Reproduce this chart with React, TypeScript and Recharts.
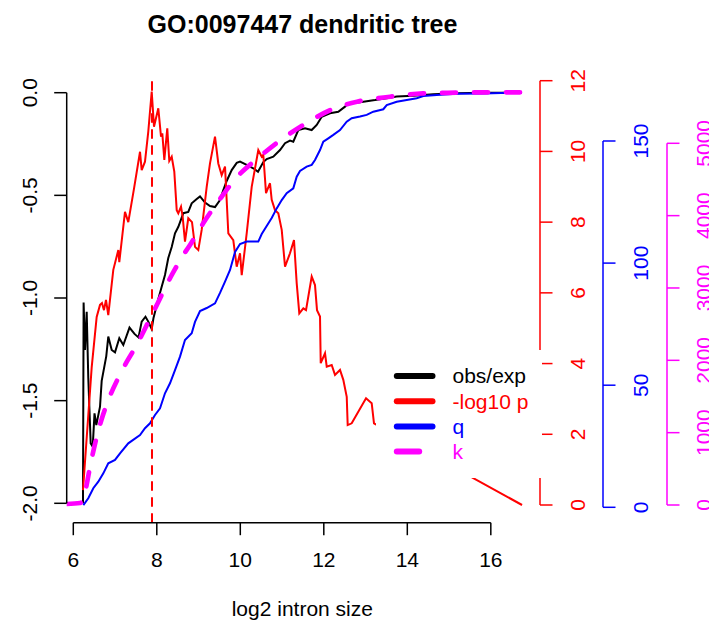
import React from 'react';
import { ComposedChart, Line, XAxis, YAxis, ReferenceLine, Legend, Customized } from 'recharts';

const FONT = '"Liberation Sans", Arial, Helvetica, sans-serif';

const TITLE = 'GO:0097447 dendritic tree';
const X_LABEL = 'log2 intron size';

// obs/exp (left axis)
const OBS_EXP: [number, number][] = [
  [6.232, -2.0], [6.247, -1.022], [6.28, -1.253], [6.321, -1.067], [6.359, -1.39], [6.417, -1.708],
  [6.465, -1.724], [6.508, -1.562], [6.551, -1.619], [6.64, -1.529], [6.68, -1.404], [6.79, -1.283],
  [6.838, -1.188], [6.92, -1.253], [6.999, -1.265], [7.102, -1.196], [7.198, -1.229], [7.346, -1.144],
  [7.466, -1.175], [7.562, -1.192], [7.638, -1.115], [7.729, -1.091], [7.796, -1.115], [7.878, -1.151],
  [7.921, -1.097], [8.036, -1.005], [8.117, -0.945], [8.196, -0.888], [8.275, -0.805], [8.357, -0.752],
  [8.436, -0.685], [8.516, -0.653], [8.635, -0.587], [8.754, -0.581], [8.836, -0.539], [8.956, -0.518],
  [9.035, -0.505], [9.155, -0.535], [9.274, -0.552], [9.394, -0.557], [9.514, -0.523], [9.593, -0.474],
  [9.674, -0.43], [9.794, -0.377], [9.914, -0.342], [9.993, -0.336], [10.153, -0.352], [10.311, -0.368],
  [10.424, -0.385], [10.551, -0.338], [10.632, -0.323], [10.79, -0.312], [10.951, -0.279], [11.071, -0.246],
  [11.19, -0.233], [11.269, -0.239], [11.389, -0.182], [11.55, -0.173], [11.71, -0.182], [11.83, -0.157],
  [11.95, -0.117], [12.148, -0.1], [12.347, -0.093], [12.508, -0.068], [12.587, -0.052], [12.867, -0.047],
  [13.107, -0.039], [13.226, -0.036], [13.507, -0.027], [13.746, -0.019], [14.144, -0.015], [14.623, -0.008],
  [15.183, -0.003], [15.82, 0.0], [16.747, 0.0],
];

// -log10 p (red axis)
const NEG_LOG_P: [number, number][] = [
  [6.232, 0.42], [6.441, 3.9], [6.56, 5.32], [6.64, 5.66], [6.687, 5.71], [6.735, 5.51], [6.783, 5.8],
  [6.838, 5.37], [6.958, 6.65], [7.078, 7.21], [7.102, 6.87], [7.238, 8.29], [7.317, 8.0], [7.454, 8.95],
  [7.598, 9.99], [7.638, 9.47], [7.717, 9.71], [7.796, 10.56], [7.878, 11.69], [7.933, 10.7], [8.036, 11.22],
  [8.101, 10.42], [8.132, 10.51], [8.18, 9.76], [8.251, 10.65], [8.299, 9.73], [8.357, 9.85], [8.419, 9.43],
  [8.477, 8.34], [8.515, 8.25], [8.58, 8.44], [8.62, 8.15], [8.675, 7.45], [8.754, 8.11], [8.843, 8.0],
  [8.915, 7.3], [8.994, 7.21], [9.075, 7.78], [9.195, 9.0], [9.274, 9.66], [9.394, 10.42], [9.473, 9.66],
  [9.554, 9.33], [9.634, 9.57], [9.713, 7.68], [9.832, 7.49], [9.914, 6.74], [9.993, 7.12], [10.034, 6.5],
  [10.153, 7.68], [10.273, 9.0], [10.431, 10.04], [10.513, 9.85], [10.551, 9.9], [10.616, 8.82], [10.711, 9.1],
  [10.752, 8.63], [10.831, 8.34], [10.91, 8.25], [10.992, 7.78], [11.071, 6.74], [11.19, 7.12], [11.286, 7.49],
  [11.351, 6.27], [11.413, 5.42], [11.509, 5.56], [11.574, 5.51], [11.71, 6.46], [11.789, 6.22], [11.837, 5.51],
  [11.909, 5.33], [11.926, 4.01], [12.029, 4.29], [12.07, 3.91], [12.189, 3.96], [12.268, 3.68], [12.388, 3.82],
  [12.467, 3.54], [12.549, 3.06], [12.572, 2.26], [12.668, 2.31], [13.011, 3.02], [13.147, 2.88], [13.202, 2.31],
  [16.748, 0.0],
];

// q (blue axis)
const Q_VALUES: [number, number][] = [
  [6.24, 0.9], [6.359, 3.7], [6.479, 7.8], [6.599, 10.5], [6.719, 13.9], [6.838, 18.0], [6.999, 19.4],
  [7.119, 22.1], [7.317, 26.2], [7.598, 29.6], [7.717, 32.4], [7.837, 34.4], [7.957, 37.8], [8.077, 40.5],
  [8.196, 46.7], [8.316, 50.8], [8.436, 56.2], [8.556, 61.7], [8.675, 68.5], [8.836, 71.3], [8.915, 75.9],
  [9.035, 80.4], [9.195, 81.6], [9.394, 83.5], [9.514, 87.8], [9.634, 92.4], [9.754, 97.2], [9.874, 104.6],
  [9.993, 107.8], [10.153, 108.8], [10.431, 108.8], [10.513, 111.9], [10.632, 115.2], [10.752, 118.5],
  [10.872, 122.4], [10.992, 125.8], [11.111, 128.6], [11.269, 130.6], [11.351, 135.4], [11.43, 137.7],
  [11.59, 139.5], [11.71, 140.2], [11.789, 142.2], [11.909, 146.3], [11.988, 149.7], [12.108, 151.1],
  [12.228, 152.5], [12.388, 154.5], [12.548, 157.9], [12.668, 159.3], [12.867, 160.0], [13.027, 160.7],
  [13.186, 162.0], [13.425, 163.0], [13.507, 164.7], [13.746, 166.1], [13.986, 166.8], [14.225, 167.5],
  [14.383, 168.4], [14.704, 168.8], [15.183, 169.3], [15.82, 169.5], [16.747, 169.9],
];

// k (magenta axis)
const K_VALUES: [number, number][] = [
  [5.842, 14], [6.16, 28], [6.232, 69], [6.304, 235], [6.4, 525], [6.56, 940], [6.719, 1258], [6.879, 1507],
  [7.078, 1756], [7.279, 1977], [7.519, 2212], [7.796, 2530], [8.036, 2806], [8.22, 3027], [8.412, 3235],
  [8.604, 3428], [8.795, 3594], [9.131, 3912], [9.514, 4230], [9.921, 4534], [10.424, 4796], [10.999, 5059],
  [11.43, 5225], [12.22, 5474], [12.795, 5575], [13.586, 5644], [14.376, 5689], [15.19, 5700], [15.98, 5705],
  [16.764, 5705],
];

const PEAK_X = 7.885;
const PEAK_TOP = 12;

const X_TICKS = [6, 8, 10, 12, 14, 16];
const OE_TICKS = [-2, -1.5, -1, -0.5, 0];
const P_TICKS = [0, 2, 4, 6, 8, 10, 12];
const Q_TICKS = [0, 50, 100, 150];
const K_TICKS = [0, 1000, 2000, 3000, 4000, 5000];

const LEGEND_LABELS = ['obs/exp', '-log10 p', 'q', 'k'];
const LEGEND_COLORS = ['#000000', '#FF0000', '#0000FF', '#FF00FF'];

// geometry
const W = 709;
const H = 634;
const PLOT_LEFT = 66.7;
const PLOT_RIGHT = 540;
const PLOT_TOP = 64;
const PLOT_BOTTOM = 522;
const PLOT_H = PLOT_BOTTOM - PLOT_TOP;
const PLOT_W = PLOT_RIGHT - PLOT_LEFT;
const X_DOMAIN: [number, number] = [5.842, 17.178];
const OE_DOMAIN: [number, number] = [-2.0911, 0.1398];
const P_DOMAIN: [number, number] = [-0.4808, 12.4723];
const Q_DOMAIN: [number, number] = [-6.02, 181.53];
const K_DOMAIN: [number, number] = [-235, 6096.2];

const toData = (pairs: [number, number][]) => pairs.map(([x, v]) => ({ x, v }));

const X_AXIS_Y = 522.7;
const TICK_LEN = 12.5;
const FS = 21;

const XTick = (props: any) => {
  const { x, payload } = props;
  const v = payload.value;
  const span = ((X_TICKS[X_TICKS.length - 1] - X_TICKS[0]) * PLOT_W) / (X_DOMAIN[1] - X_DOMAIN[0]);
  return (
    <g>
      {v === X_TICKS[0] && (
        <line x1={x} y1={X_AXIS_Y} x2={x + span} y2={X_AXIS_Y} stroke="#000" strokeWidth={1.5} />
      )}
      <line x1={x} y1={X_AXIS_Y} x2={x} y2={X_AXIS_Y + TICK_LEN} stroke="#000" strokeWidth={1.5} />
      <text x={x} y={567} textAnchor="middle" fontSize={FS} fontFamily={FONT} fill="#000">
        {v}
      </text>
    </g>
  );
};

const makeYTick = (
  axisX: number,
  dir: number,
  labelX: number,
  ticks: number[],
  domain: [number, number],
  color: string,
  fmt: (v: number) => string
) => (props: any) => {
  const { y, payload } = props;
  const v = payload.value;
  const span = ((ticks[ticks.length - 1] - ticks[0]) * PLOT_H) / (domain[1] - domain[0]);
  return (
    <g>
      {v === ticks[0] && <line x1={axisX} y1={y} x2={axisX} y2={y - span} stroke={color} strokeWidth={1.5} />}
      <line x1={axisX} y1={y} x2={axisX + dir * TICK_LEN} y2={y} stroke={color} strokeWidth={1.5} />
      <text
        x={labelX}
        y={y}
        transform={`rotate(-90 ${labelX} ${y})`}
        textAnchor="middle"
        fontSize={FS}
        fontFamily={FONT}
        fill={color}
      >
        {fmt(v)}
      </text>
    </g>
  );
};

const OETick = makeYTick(66.7, -1, 36.7, OE_TICKS, OE_DOMAIN, '#000000', (v) => v.toFixed(1));
const PTick = makeYTick(540, 1, 585, P_TICKS, P_DOMAIN, '#FF0000', (v) => String(v));
const QTick = makeYTick(603, 1, 648, Q_TICKS, Q_DOMAIN, '#0000FF', (v) => String(v));
const KTick = makeYTick(667, 1, 710.7, K_TICKS, K_DOMAIN, '#FF00FF', (v) => String(v));

const ChartText = () => (
  <g>
    <text x={302.5} y={33} textAnchor="middle" fontWeight="bold" fontSize={25} fontFamily={FONT} fill="#000">
      {TITLE}
    </text>
    <text x={302.3} y={615.5} textAnchor="middle" fontSize={FS} fontFamily={FONT} fill="#000">
      {X_LABEL}
    </text>
  </g>
);

const LEG_W = 166;
const LEG_H = 127.5;

const LegendBox = () => (
  <svg width={LEG_W} height={LEG_H} style={{ display: 'block', background: '#fff' }}>
    {LEGEND_LABELS.map((label, i) => {
      const cy = 26 + i * 25.2;
      const x2 = i === 3 ? 43.2 : 56.5;
      return (
        <g key={label}>
          <line x1={20.8} y1={cy} x2={x2} y2={cy} stroke={LEGEND_COLORS[i]} strokeWidth={6} strokeLinecap="round" />
          <text x={76.5} y={cy + 7.3} fontSize={FS} fontFamily={FONT} fill={LEGEND_COLORS[i]}>
            {label}
          </text>
        </g>
      );
    })}
  </svg>
);

export default function App() {
  return (
    <div style={{ position: 'absolute', left: 0, top: 0, width: W, height: H, background: '#fff' }}>
      <ComposedChart
        width={W}
        height={H}
        margin={{ top: PLOT_TOP, right: 0, bottom: 0, left: 0.7 }}
        style={{ fontFamily: FONT }}
      >
        <XAxis
          type="number"
          dataKey="x"
          domain={X_DOMAIN}
          ticks={X_TICKS}
          allowDataOverflow
          interval={0}
          height={H - PLOT_BOTTOM}
          axisLine={false}
          tickLine={false}
          tick={XTick}
        />
        <YAxis
          yAxisId="oe"
          orientation="left"
          type="number"
          width={66}
          domain={OE_DOMAIN}
          ticks={OE_TICKS}
          allowDataOverflow
          interval={0}
          axisLine={false}
          tickLine={false}
          tick={OETick}
        />
        <YAxis
          yAxisId="p"
          orientation="right"
          type="number"
          width={63}
          domain={P_DOMAIN}
          ticks={P_TICKS}
          allowDataOverflow
          interval={0}
          axisLine={false}
          tickLine={false}
          tick={PTick}
        />
        <YAxis
          yAxisId="q"
          orientation="right"
          type="number"
          width={64}
          domain={Q_DOMAIN}
          ticks={Q_TICKS}
          allowDataOverflow
          interval={0}
          axisLine={false}
          tickLine={false}
          tick={QTick}
        />
        <YAxis
          yAxisId="k"
          orientation="right"
          type="number"
          width={42}
          domain={K_DOMAIN}
          ticks={K_TICKS}
          allowDataOverflow
          interval={0}
          axisLine={false}
          tickLine={false}
          tick={KTick}
        />
        <Line
          yAxisId="oe"
          data={toData(OBS_EXP)}
          dataKey="v"
          name={LEGEND_LABELS[0]}
          type="linear"
          stroke={LEGEND_COLORS[0]}
          strokeWidth={2}
          dot={false}
          activeDot={false}
          isAnimationActive={false}
        />
        <Line
          yAxisId="p"
          data={toData(NEG_LOG_P)}
          dataKey="v"
          name={LEGEND_LABELS[1]}
          type="linear"
          stroke={LEGEND_COLORS[1]}
          strokeWidth={2}
          dot={false}
          activeDot={false}
          isAnimationActive={false}
        />
        <Line
          yAxisId="q"
          data={toData(Q_VALUES)}
          dataKey="v"
          name={LEGEND_LABELS[2]}
          type="linear"
          stroke={LEGEND_COLORS[2]}
          strokeWidth={2}
          dot={false}
          activeDot={false}
          isAnimationActive={false}
        />
        <Line
          yAxisId="k"
          data={toData(K_VALUES)}
          dataKey="v"
          name={LEGEND_LABELS[3]}
          type="monotone"
          stroke={LEGEND_COLORS[3]}
          strokeWidth={4.7}
          strokeDasharray="14 18"
          strokeLinecap="round"
          dot={false}
          activeDot={false}
          isAnimationActive={false}
        />
        <ReferenceLine
          yAxisId="p"
          segment={[{ x: PEAK_X, y: P_DOMAIN[0] }, { x: PEAK_X, y: PEAK_TOP }]}
          stroke="#FF0000"
          strokeWidth={2}
          strokeDasharray="8 8"
          strokeLinecap="round"
          ifOverflow="visible"
        />
        <Customized component={ChartText} />
        <Legend
          layout="horizontal"
          verticalAlign="middle"
          align="center"
          wrapperStyle={{ position: 'absolute', left: 375.5, top: 350, width: LEG_W, height: LEG_H, margin: 0, padding: 0 }}
          content={() => <LegendBox />}
        />
      </ComposedChart>
    </div>
  );
}
